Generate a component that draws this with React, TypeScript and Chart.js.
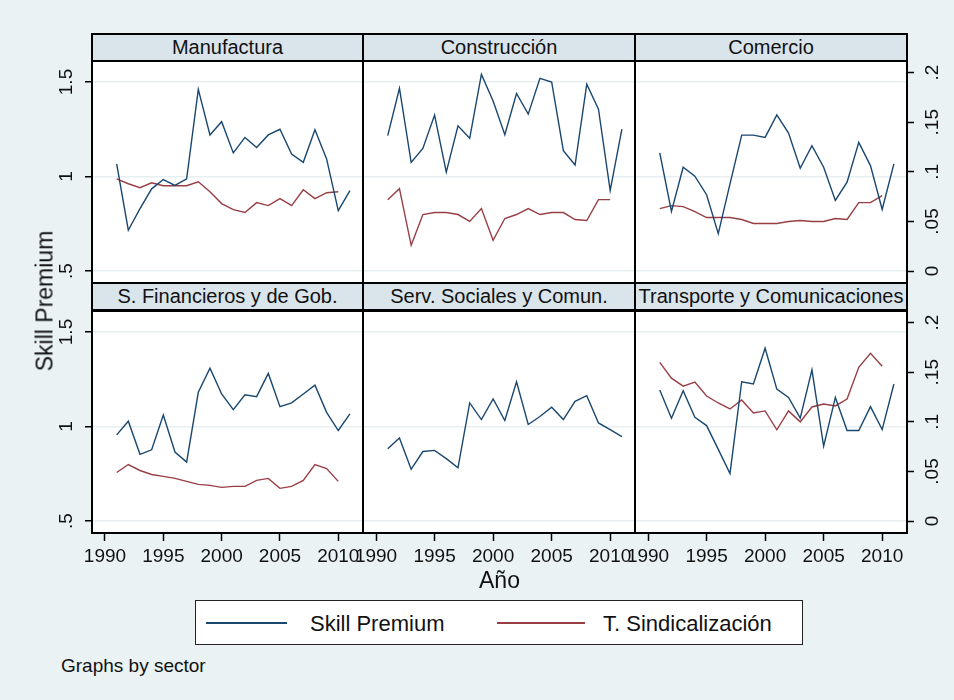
import React, { useEffect, useRef } from 'react';
import { Chart, registerables } from 'chart.js';

Chart.register(...registerables);

// ---------------- data ----------------
const years = [1991, 1992, 1993, 1994, 1995, 1996, 1997, 1998, 1999, 2000, 2001, 2002, 2003, 2004, 2005, 2006, 2007, 2008, 2009, 2010, 2011];

const sectorNames = ['Manufactura', 'Construcción', 'Comercio', 'S. Financieros y de Gob.', 'Serv. Sociales y Comun.', 'Transporte y Comunicaciones'];

const skillManufactura = [1.067, 0.716, 0.83, 0.935, 0.984, 0.953, 0.988, 1.461, 1.22, 1.29, 1.125, 1.207, 1.154, 1.22, 1.25, 1.119, 1.075, 1.247, 1.093, 0.82, 0.926];
const sindManufactura = [0.093, 0.088, 0.084, 0.089, 0.086, 0.086, 0.086, 0.09, 0.08, 0.068, 0.062, 0.059, 0.069, 0.066, 0.073, 0.066, 0.082, 0.073, 0.079, 0.08];

const skillConstruccion = [1.216, 1.467, 1.075, 1.149, 1.325, 1.023, 1.268, 1.202, 1.54, 1.4, 1.221, 1.439, 1.33, 1.519, 1.5, 1.137, 1.061, 1.488, 1.356, 0.926, 1.251];
const sindConstruccion = [0.072, 0.083, 0.026, 0.057, 0.059, 0.059, 0.057, 0.05, 0.063, 0.031, 0.053, 0.057, 0.063, 0.057, 0.059, 0.059, 0.052, 0.051, 0.072, 0.072];

const skillComercio = [1.125, 0.816, 1.049, 1.002, 0.904, 0.698, 0.961, 1.219, 1.219, 1.207, 1.326, 1.23, 1.044, 1.163, 1.049, 0.874, 0.97, 1.181, 1.058, 0.826, 1.067];
const sindComercio = [0.063, 0.066, 0.065, 0.06, 0.054, 0.054, 0.054, 0.052, 0.048, 0.048, 0.048, 0.05, 0.051, 0.05, 0.05, 0.053, 0.052, 0.069, 0.069, 0.076];

const skillFinancieros = [0.956, 1.028, 0.853, 0.877, 1.061, 0.865, 0.812, 1.181, 1.309, 1.172, 1.089, 1.168, 1.158, 1.281, 1.105, 1.125, 1.172, 1.219, 1.075, 0.979, 1.067];
const sindFinancieros = [0.049, 0.057, 0.051, 0.047, 0.045, 0.043, 0.04, 0.037, 0.036, 0.034, 0.035, 0.035, 0.041, 0.043, 0.033, 0.035, 0.041, 0.057, 0.053, 0.04];

const skillSociales = [0.882, 0.94, 0.774, 0.868, 0.874, 0.83, 0.782, 1.125, 1.037, 1.146, 1.032, 1.237, 1.011, 1.053, 1.102, 1.037, 1.133, 1.163, 1.019, 0.984, 0.947];
const sindSociales: number[] = [];

const skillTransporte = [1.193, 1.044, 1.189, 1.049, 1.005, 0.879, 0.751, 1.237, 1.225, 1.414, 1.198, 1.154, 1.044, 1.3, 0.896, 1.154, 0.979, 0.979, 1.105, 0.984, 1.225];
const sindTransporte = [0.16, 0.144, 0.136, 0.14, 0.126, 0.119, 0.113, 0.122, 0.109, 0.111, 0.092, 0.111, 0.1, 0.115, 0.118, 0.116, 0.123, 0.155, 0.169, 0.156];

const xTicks = [1990, 1995, 2000, 2005, 2010];
const leftTicks = [0.5, 1, 1.5];
const leftTickLabels = ['.5', '1', '1.5'];
const rightTicks = [0, 0.05, 0.1, 0.15, 0.2];
const rightTickLabels = ['0', '.05', '.1', '.15', '.2'];

const seriesNames = ['Skill Premium', 'T. Sindicalización'];

// ---------------- style / layout ----------------
const FONT = '"Liberation Sans", Arial, Helvetica, sans-serif';
const BLUE = '#1a476f';
const RED = '#983f45';
const BG = '#eaf2f3';
const STRIP = '#d9e4eb';
const GRID = '#e8eff1';
const COL_X = [92, 363, 635, 907];
const ROWS = [[61, 283], [311, 533]];
const X_MIN = 1988.886;
const X_MAX = 2012.12;
const Y_MIN = 0.437;
const Y_MAX = 1.611;
const Y1_MIN = -0.012;
const Y1_MAX = 0.2117;
const PAD = 28;

const framePlugin = {
  id: 'stataFrame',
  beforeDraw(chart: any) {
    const { ctx, chartArea: a } = chart;
    ctx.save();
    ctx.fillStyle = '#ffffff';
    ctx.fillRect(a.left, a.top, a.right - a.left, a.bottom - a.top);
    ctx.restore();
  },
  afterDraw(chart: any) {
    const { ctx, chartArea: a } = chart;
    ctx.save();
    ctx.strokeStyle = '#000';
    ctx.lineWidth = 2;
    ctx.strokeRect(a.left, a.top, a.right - a.left, a.bottom - a.top);
    ctx.restore();
  },
};

const rotatedTicksPlugin = {
  id: 'rotatedTicks',
  afterDraw(chart: any, _args: any, opts: any) {
    const items = (opts && opts.items) || [];
    const ctx = chart.ctx;
    for (const it of items) {
      const scale = chart.scales[it.scaleId];
      if (!scale) continue;
      const x = it.side === 'left' ? chart.chartArea.left - it.offset : chart.chartArea.right + it.offset;
      ctx.save();
      ctx.fillStyle = '#111';
      ctx.font = `19px ${FONT}`;
      ctx.textAlign = 'center';
      ctx.textBaseline = 'middle';
      for (const t of scale.ticks) {
        const y = scale.getPixelForValue(t.value);
        ctx.save();
        ctx.translate(x, y);
        ctx.rotate(-Math.PI / 2);
        ctx.fillText(String(t.label), 0, 0);
        ctx.restore();
      }
      ctx.restore();
    }
  },
};

function labelFor(values: number[], labels: string[], v: number) {
  const i = values.findIndex((x) => Math.abs(x - v) < 1e-9);
  return i >= 0 ? labels[i] : '';
}

function Panel(props: { idx: number; skill: number[]; sind: number[] }) {
  const { idx, skill, sind } = props;
  const ref = useRef<HTMLCanvasElement>(null);
  const r = Math.floor(idx / 3);
  const c = idx % 3;
  const plotL = COL_X[c];
  const plotR = COL_X[c + 1];
  const plotT = ROWS[r][0];
  const plotB = ROWS[r][1];
  const yLW = c === 0 ? 40 : 0;
  const yRW = c === 2 ? 40 : 0;
  const xH = r === 1 ? 40 : 0;
  const left = plotL - PAD - yLW;
  const top = plotT - 2;
  const w = plotR - plotL + 2 * PAD + yLW + yRW;
  const h = plotB - plotT + 4 + xH;

  useEffect(() => {
    const canvas = ref.current;
    if (!canvas) return;
    const datasets: any[] = [
      {
        label: seriesNames[0],
        data: skill.map((v, i) => ({ x: years[i], y: v })),
        borderColor: BLUE,
        borderWidth: 1.4,
        pointRadius: 0,
        tension: 0,
        yAxisID: 'y',
      },
    ];
    if (sind.length) {
      datasets.push({
        label: seriesNames[1],
        data: sind.map((v, i) => ({ x: years[i], y: v })),
        borderColor: RED,
        borderWidth: 1.4,
        pointRadius: 0,
        tension: 0,
        yAxisID: 'y1',
      });
    }
    const rotItems: any[] = [];
    if (c === 0) rotItems.push({ scaleId: 'y', side: 'left', offset: 25 });
    if (c === 2) rotItems.push({ scaleId: 'y1', side: 'right', offset: 26 });

    const chart = new Chart(canvas, {
      type: 'line',
      data: { datasets },
      options: {
        animation: false,
        responsive: false,
        maintainAspectRatio: false,
        events: [],
        layout: { padding: { left: PAD, right: PAD, top: 2, bottom: 2 } },
        plugins: {
          legend: { display: false },
          tooltip: { enabled: false },
          rotatedTicks: { items: rotItems },
        } as any,
        scales: {
          x: {
            type: 'linear',
            position: 'bottom',
            display: r === 1,
            min: X_MIN,
            max: X_MAX,
            afterBuildTicks: (s: any) => {
              s.ticks = xTicks.map((v) => ({ value: v }));
            },
            afterFit: (s: any) => {
              s.height = xH;
            },
            grid: { drawOnChartArea: false, drawTicks: true, tickLength: 8, tickColor: '#000', tickWidth: 1.5 },
            border: { display: false },
            ticks: {
              autoSkip: false,
              maxRotation: 0,
              minRotation: 0,
              padding: 4,
              color: '#111',
              font: { family: FONT, size: 19 },
              callback: (v: any) => String(v),
            },
          },
          y: {
            type: 'linear',
            position: 'left',
            min: Y_MIN,
            max: Y_MAX,
            afterBuildTicks: (s: any) => {
              s.ticks = leftTicks.map((v) => ({ value: v }));
            },
            afterFit: (s: any) => {
              s.width = yLW;
            },
            grid: { color: GRID, lineWidth: 1.5, drawTicks: c === 0, tickLength: 7, tickColor: '#000', tickWidth: 1.5 },
            border: { display: false },
            ticks: { display: false, callback: (v: any) => labelFor(leftTicks, leftTickLabels, Number(v)) },
          },
          y1: {
            type: 'linear',
            position: 'right',
            display: c === 2,
            min: Y1_MIN,
            max: Y1_MAX,
            afterBuildTicks: (s: any) => {
              s.ticks = rightTicks.map((v) => ({ value: v }));
            },
            afterFit: (s: any) => {
              s.width = yRW;
            },
            grid: { drawOnChartArea: false, drawTicks: true, tickLength: 7, tickColor: '#000', tickWidth: 1.5 },
            border: { display: false },
            ticks: { display: false, callback: (v: any) => labelFor(rightTicks, rightTickLabels, Number(v)) },
          },
        },
      } as any,
      plugins: [framePlugin, rotatedTicksPlugin],
    });
    return () => chart.destroy();
  }, []);

  return (
    <canvas
      ref={ref}
      width={w}
      height={h}
      style={{ position: 'absolute', left, top, width: w, height: h }}
    />
  );
}

export default function App() {
  const panels = [
    { skill: skillManufactura, sind: sindManufactura },
    { skill: skillConstruccion, sind: sindConstruccion },
    { skill: skillComercio, sind: sindComercio },
    { skill: skillFinancieros, sind: sindFinancieros },
    { skill: skillSociales, sind: sindSociales },
    { skill: skillTransporte, sind: sindTransporte },
  ];
  return (
    <div
      style={{
        position: 'fixed',
        left: 0,
        top: 0,
        width: 954,
        height: 700,
        background: BG,
        overflow: 'hidden',
        fontFamily: FONT,
        color: '#111',
      }}
    >
      {sectorNames.map((name, i) => {
        const r = Math.floor(i / 3);
        const c = i % 3;
        const hTop = r === 0 ? 33 : 282;
        return (
          <div
            key={'h' + i}
            style={{
              position: 'absolute',
              left: COL_X[c] - 1,
              top: hTop,
              width: COL_X[c + 1] - COL_X[c] + 2,
              height: 29,
              boxSizing: 'border-box',
              border: '2px solid #000',
              background: STRIP,
              fontSize: 20,
              lineHeight: '24px',
              textAlign: 'center',
              whiteSpace: 'nowrap',
              overflow: 'hidden',
            }}
          >
            {name}
          </div>
        );
      })}
      {panels.map((p, i) => (
        <Panel key={i} idx={i} skill={p.skill} sind={p.sind} />
      ))}
      <div
        style={{
          position: 'absolute',
          left: 45,
          top: 301,
          transform: 'translate(-50%, -50%) rotate(-90deg)',
          fontSize: 23,
          whiteSpace: 'nowrap',
        }}
      >
        Skill Premium
      </div>
      <div
        style={{
          position: 'absolute',
          left: 499.5,
          top: 580,
          transform: 'translate(-50%, -50%)',
          fontSize: 23,
          whiteSpace: 'nowrap',
        }}
      >
        Año
      </div>
      <div
        style={{
          position: 'absolute',
          left: 195,
          top: 600,
          width: 608,
          height: 45,
          boxSizing: 'border-box',
          border: '1.5px solid #222',
          background: '#fff',
        }}
      >
        <div style={{ position: 'absolute', left: 10, top: 21, width: 81, height: 2, background: BLUE }} />
        <div style={{ position: 'absolute', left: 114, top: 2, height: 42, lineHeight: '42px', fontSize: 22, whiteSpace: 'nowrap' }}>
          {seriesNames[0]}
        </div>
        <div style={{ position: 'absolute', left: 301, top: 21, width: 88, height: 2, background: RED }} />
        <div style={{ position: 'absolute', left: 407, top: 2, height: 42, lineHeight: '42px', fontSize: 22, whiteSpace: 'nowrap' }}>
          {seriesNames[1]}
        </div>
      </div>
      <div
        style={{
          position: 'absolute',
          left: 61,
          top: 666,
          transform: 'translateY(-50%)',
          fontSize: 19,
          whiteSpace: 'nowrap',
        }}
      >
        Graphs by sector
      </div>
    </div>
  );
}
